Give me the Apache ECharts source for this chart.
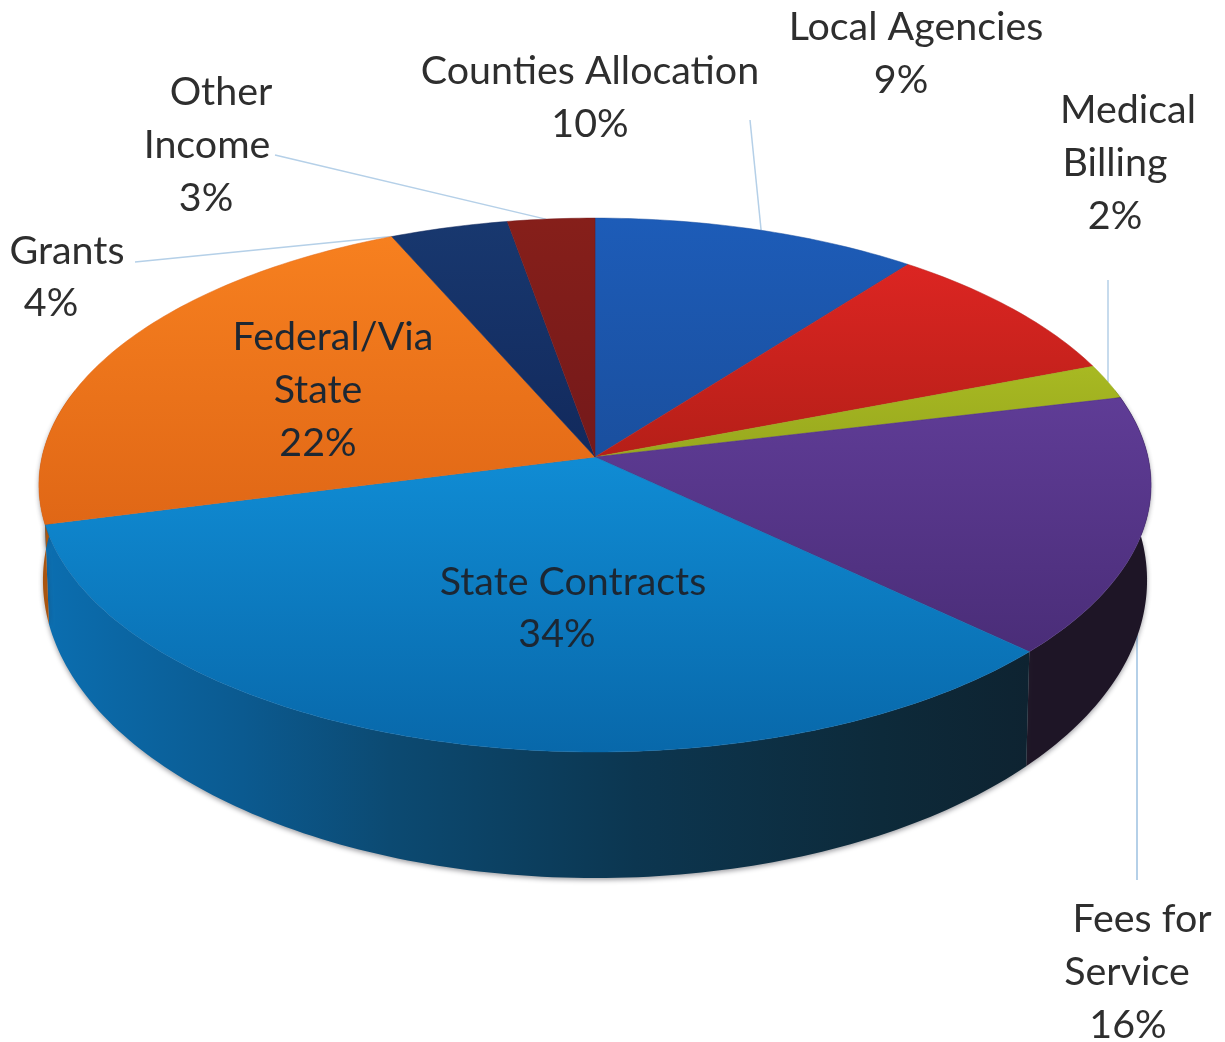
<!DOCTYPE html>
<html>
<head>
<meta charset="utf-8">
<title>Revenue sources</title>
<script src="https://cdn.jsdelivr.net/npm/echarts@6/dist/echarts.min.js"></script>
<style>
  html, body { margin: 0; padding: 0; background: #fff; }
  #chart { width: 1225px; height: 1042px; }
</style>
</head>
<body>
<div id="chart"></div>
<script>
// slices clockwise from 12 o'clock
const categories = ['Counties Allocation', 'Local Agencies', 'Medical Billing', 'Fees for Service',
  'State Contracts', 'Federal/Via State', 'Grants', 'Other Income']
// sizes as drawn
const shares = [10.5, 8.7, 2.1, 15.7, 34, 22.4, 3.8, 2.8]
// percentages as printed on the labels
const printedPercents = ['10%', '9%', '2%', '16%', '34%', '22%', '4%', '3%']
const labelNames = [['Counties Allocation'], ['Local Agencies'], ['Medical', 'Billing'], ['Fees for', 'Service'],
  ['State Contracts'], ['Federal/Via', 'State'], ['Grants'], ['Other', 'Income']]

const topColors = [['#1d5cb8', '#1a4f9e'], ['#dc2522', '#b51f18'], ['#a8b922', '#98a81e'], ['#5f3c96', '#4a2d78'],
  ['#108cd4', '#0868aa'], ['#f7801f', '#e06716'], ['#18386f', '#12295c'], ['#861f1a', '#74191a']]

// layout: text line centres, same order as labelNames plus the percent line
const labelLayout = [
  [[590, 71], [590, 124]],
  [[916, 27], [901, 80]],
  [[1128, 110], [1115, 163], [1115, 216]],
  [[1142, 919], [1127, 972], [1128, 1025]],
  [[573, 582], [557, 634]],
  [[333, 337], [318, 390], [318, 443]],
  [[67, 251], [51, 303]],
  [[221, 92], [207, 145], [206, 198]]
]
// leader lines: label end, slice index, how far along that slice the line lands
const leaders = [
  [750, 120, 0, 0.51],
  [1108, 280, 2, 0.51],
  [275, 155, 7, 0.44],
  [135, 262, 6, 0]
]

// perspective of the disc, top face and bottom face
const topDisc = { cx: 595, cy: 457, rx: 553, ry: 264 }
const bottomDisc = { cx: 595, cy: 549, rx: 549, ry: 294.5 }
const persp = 0.105

function project(disc, deg) {
  const a = deg * Math.PI / 180
  const u = Math.sin(a)
  const v = -Math.cos(a)
  const s = 1 / (1 - persp * v)
  return [disc.cx + disc.rx * u * s, disc.cy + disc.ry * v * s]
}

function arc(disc, from, to) {
  const pts = []
  const n = Math.max(2, Math.ceil(Math.abs(to - from)))
  for (let i = 0; i <= n; i++) pts.push(project(disc, from + (to - from) * i / n))
  return pts
}

const total = shares.reduce((a, b) => a + b, 0)
function sliceStart(idx) {
  let sum = 0
  for (let i = 0; i < idx; i++) sum += shares[i]
  return sum / total * 360
}

function vertical(c) {
  return { type: 'linear', x: 0, y: 0, x2: 0, y2: 1, colorStops: [{ offset: 0, color: c[0] }, { offset: 1, color: c[1] }] }
}

function sideFill(idx) {
  if (idx === 3) return '#1e1526'
  if (idx === 5) return '#a9540f'
  return {
    type: 'linear', x: 45, y: 0, x2: 1030, y2: 0, global: true,
    colorStops: [
      { offset: 0, color: '#0b6eb0' },
      { offset: 0.2, color: '#0b5a90' },
      { offset: 0.35, color: '#0c4a72' },
      { offset: 0.6, color: '#0c3650' },
      { offset: 0.85, color: '#0d2a3a' },
      { offset: 1, color: '#0e2331' }
    ]
  }
}

const chart = echarts.init(document.getElementById('chart'))

chart.setOption({
  animation: false,
  backgroundColor: '#ffffff',
  series: [
    // leader lines sit behind the pie
    {
      type: 'custom',
      coordinateSystem: 'none',
      silent: true,
      z: 1,
      data: leaders.map((l, i) => i),
      renderItem: (params) => {
        const l = leaders[params.dataIndex]
        const start = sliceStart(l[2])
        const end = project(topDisc, start + shares[l[2]] / total * 360 * l[3])
        return {
          type: 'line',
          shape: { x1: l[0], y1: l[1], x2: end[0], y2: end[1] },
          style: { stroke: '#b5d0e8', lineWidth: 1.5 }
        }
      }
    },
    // the Fees for Service line runs straight down beside the rim
    {
      type: 'custom',
      coordinateSystem: 'none',
      silent: true,
      z: 1,
      data: [0],
      renderItem: () => {
        const p = project(bottomDisc, sliceStart(3) + 27)
        return {
          type: 'line',
          shape: { x1: 1137, y1: 880, x2: 1137, y2: p[1] },
          style: { stroke: '#b5d0e8', lineWidth: 2 }
        }
      }
    },
    // side wall, only the front half shows
    {
      type: 'custom',
      coordinateSystem: 'none',
      silent: true,
      z: 2,
      data: shares,
      renderItem: (params, api) => {
        const idx = params.dataIndex
        const from = Math.max(sliceStart(idx), 75)
        const to = Math.min(sliceStart(idx) + api.value(0) / total * 360, 285)
        if (to <= from) return null
        const points = arc(topDisc, from, to).concat(arc(bottomDisc, to, from))
        return {
          type: 'polygon',
          shape: { points },
          style: { fill: sideFill(idx), shadowColor: 'rgba(40,40,50,0.45)', shadowBlur: 5, shadowOffsetY: 2 }
        }
      }
    },
    // top face
    {
      type: 'custom',
      coordinateSystem: 'none',
      silent: true,
      z: 3,
      data: shares,
      renderItem: (params, api) => {
        const idx = params.dataIndex
        const from = sliceStart(idx)
        const to = from + api.value(0) / total * 360
        const points = [[topDisc.cx, topDisc.cy]].concat(arc(topDisc, from, to))
        return {
          type: 'polygon',
          shape: { points },
          style: { fill: vertical(topColors[idx]), stroke: topColors[idx][1], lineWidth: 0.5 }
        }
      }
    },
    // labels
    {
      type: 'custom',
      coordinateSystem: 'none',
      silent: true,
      z: 4,
      data: shares,
      renderItem: (params) => {
        const idx = params.dataIndex
        const lines = labelNames[idx].concat(printedPercents[idx])
        const inside = idx === 4 || idx === 5
        return {
          type: 'group',
          children: lines.map((text, i) => ({
            type: 'text',
            style: {
              text,
              x: labelLayout[idx][i][0],
              y: labelLayout[idx][i][1],
              align: 'center',
              verticalAlign: 'middle',
              font: '39.4px Lato, "Open Sans", sans-serif',
              fill: inside ? '#1c2733' : '#2e2e2e'
            }
          }))
        }
      }
    }
  ]
})

window.addEventListener('resize', () => chart.resize())
</script>
</body>
</html>
